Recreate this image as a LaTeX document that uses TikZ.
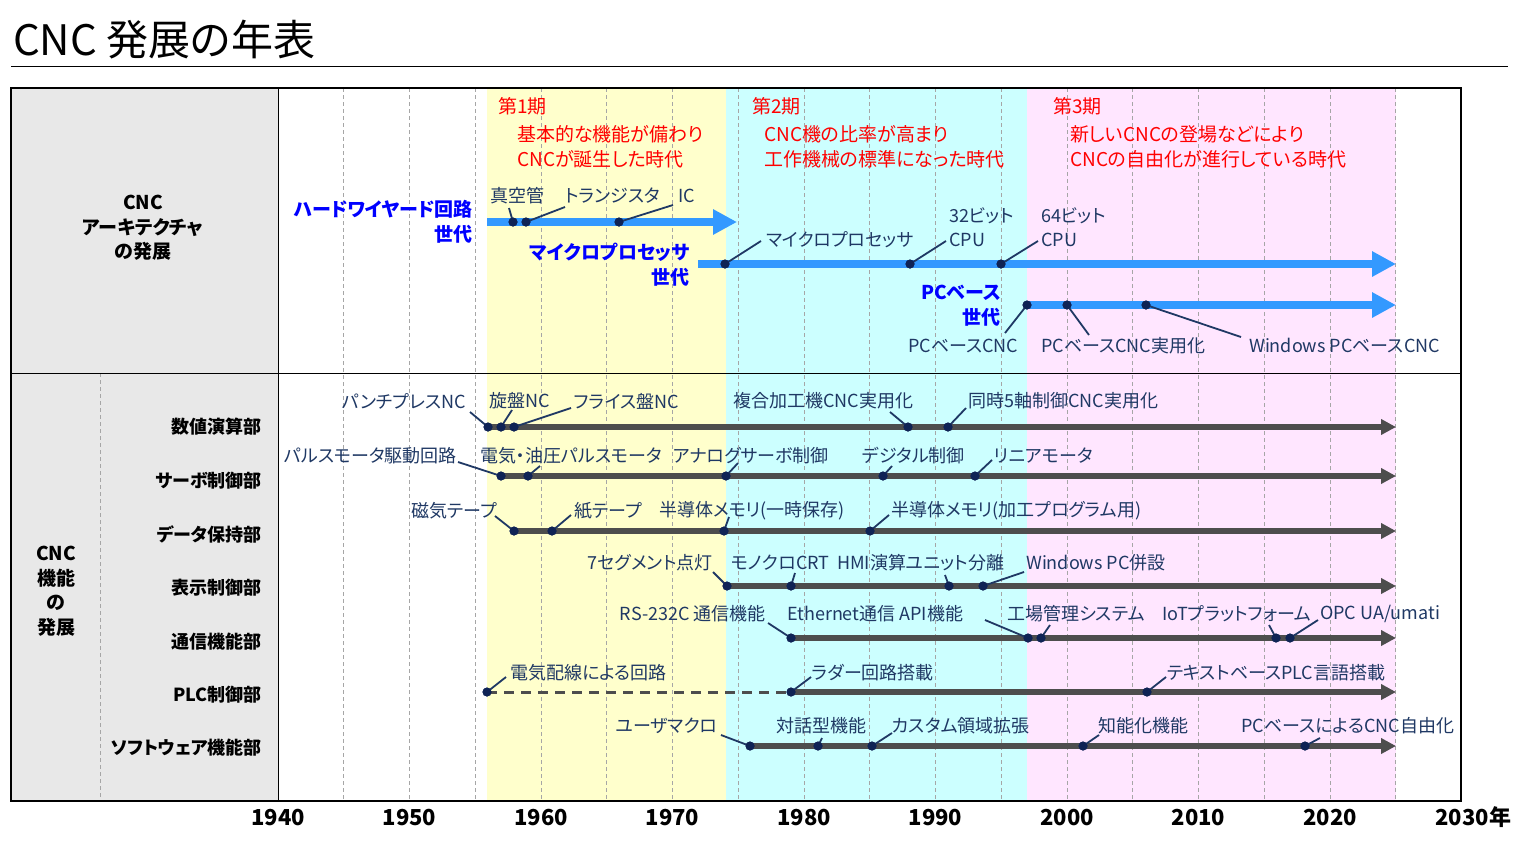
\documentclass[tikz,border=0pt]{standalone}
\usepackage{fontspec}
\setmainfont{Noto Sans CJK JP}[RawFeature=+palt]
\usetikzlibrary{arrows.meta}
\definecolor{navy}{HTML}{1F3864}
\definecolor{dotc}{HTML}{0F2355}
\definecolor{barblue}{HTML}{3399FF}
\definecolor{bargray}{HTML}{4D4D4D}
\definecolor{bandY}{HTML}{FFFFCC}
\definecolor{bandC}{HTML}{CCFFFF}
\definecolor{bandP}{HTML}{FFE6FF}
\definecolor{panel}{HTML}{E8E8E8}
\definecolor{gridc}{HTML}{A6A6A6}
\begin{document}
\begin{tikzpicture}[x=1pt,y=-1pt,
  lab/.style={font=\fontsize{18}{20}\selectfont, text=navy, inner sep=0pt},
  labR/.style={lab, anchor=east},
  labL/.style={lab, anchor=west},
  period/.style={font=\fontsize{19}{21}\selectfont, text=red, inner sep=0pt, anchor=west},
  gen/.style={font=\fontsize{19}{25}\bfseries\selectfont, text=blue, inner sep=0pt, anchor=east, align=right},
  head/.style={font=\fontsize{19}{24.5}\bfseries\selectfont, inner sep=0pt, align=center},
  rowlab/.style={font=\fontsize{18}{20}\bfseries\selectfont, inner sep=0pt, anchor=east},
  dot/.style={circle, fill=dotc, inner sep=0pt, minimum size=9pt},
  leader/.style={draw=navy, line width=1.8pt},
  bluebar/.style={draw=barblue, line width=8pt, -{Triangle[length=24pt,width=24pt]}},
  graybar/.style={draw=bargray, line width=6pt, -{Triangle[length=15pt,width=15pt]}},
  graydash/.style={draw=bargray, line width=3pt, dash pattern=on 10pt off 7pt},
  yearlab/.style={font=\fontsize{22}{24}\bfseries\selectfont, inner sep=0pt},
  gridline/.style={draw=gridc, dash pattern=on 4pt off 3pt, line width=0.8pt}
]
\useasboundingbox (0,0) rectangle (1525,855);
% title
\node[font=\fontsize{42}{46}\selectfont, anchor=west, inner sep=0pt] (title) at (13,40) {CNC 発展の年表};
\draw[line width=1pt] (11,66) -- (1508,66);
% backgrounds
\fill[panel] (11,88) rectangle (278,801);
\fill[bandY] (487,88) rectangle (726,801);
\fill[bandC] (726,88) rectangle (1027,801);
\fill[bandP] (1027,88) rectangle (1396,801);
\foreach \yr in {1945,1950,...,2025}
  \draw[gridline] ({278+(\yr-1940)*13.15},88) -- ({278+(\yr-1940)*13.15},801);
\draw[gridline] (100,373) -- (100,801);
\draw[line width=1pt] (278,88) -- (278,801);
\draw[line width=1pt] (11,373) -- (1461,373);
\draw[line width=2pt] (11,88) rectangle (1461,801);
% years
\foreach \yr in {1940,1950,...,2020}
  \node[yearlab] (y\yr) at ({278+(\yr-1940)*13.15},817) {\yr};
\node[yearlab] (y2030) at (1462,817) {2030};
\node[yearlab, anchor=west] (nen) at (y2030.east) {年};
% headers
\node[head] (archhead) at (143,228) {CNC\\アーキテクチャ\\の発展};
\node[head] (funchead) at (56,591) {CNC\\機能\\の\\発展};
\node[rowlab] (row1) at (262,427) {数値演算部};
\node[rowlab] (row2) at (262,481) {サーボ制御部};
\node[rowlab] (row3) at (262,534) {データ保持部};
\node[rowlab] (row4) at (262,588) {表示制御部};
\node[rowlab] (row5) at (262,642) {通信機能部};
\node[rowlab] (row6) at (262,695) {PLC制御部};
\node[rowlab] (row7) at (262,748) {ソフトウェア機能部};
% periods
\node[period] (p1) at (498,106) {第1期};
\node[period] (p1a) at (517,134) {基本的な機能が備わり};
\node[period] (p1b) at (517,159) {CNCが誕生した時代};
\node[period] (p2) at (752,106) {第2期};
\node[period] (p2a) at (764,134) {CNC機の比率が高まり};
\node[period] (p2b) at (764,159) {工作機械の標準になった時代};
\node[period] (p3) at (1053,106) {第3期};
\node[period] (p3a) at (1070,134) {新しいCNCの登場などにより};
\node[period] (p3b) at (1070,159) {CNCの自由化が進行している時代};
% generations
\node[gen] (g1) at (473,222) {ハードワイヤード回路\\世代};
\node[gen] (g2) at (690,265) {マイクロプロセッサ\\世代};
\node[gen] (g3) at (1001,306) {PCベース\\世代};
% blue arrows
\coordinate (a1s) at (487,222); \coordinate (a1e) at (737,222);
\coordinate (a2s) at (698,264); \coordinate (a2e) at (1396,264);
\coordinate (a3s) at (1027,305); \coordinate (a3e) at (1396,305);
\draw[bluebar] (a1s) -- (a1e);
\draw[bluebar] (a2s) -- (a2e);
\draw[bluebar] (a3s) -- (a3e);
% gray rows
\coordinate (r1s) at (488,427); \coordinate (r1e) at (1396,427);
\coordinate (r2s) at (501,476); \coordinate (r2e) at (1396,476);
\coordinate (r3s) at (514,531); \coordinate (r3e) at (1396,531);
\coordinate (r4s) at (727,586); \coordinate (r4e) at (1396,586);
\coordinate (r5s) at (791,638); \coordinate (r5e) at (1396,638);
\coordinate (r6s) at (791,692); \coordinate (r6e) at (1396,692);
\coordinate (r7s) at (750,746); \coordinate (r7e) at (1396,746);
\foreach \r in {1,...,7} \draw[graybar] (r\r s) -- (r\r e);
\coordinate (r6d) at (487,692);
\draw[graydash] (r6d) -- (r6s);
% upper labels
\node[labL] (t1) at (490,196) {真空管};
\node[labL] (t2) at (565,196) {トランジスタ};
\node[labL] (t3) at (678,196) {IC};
\node[labL] (t4) at (766,240) {マイクロプロセッサ};
\node[labL] (t5) at (949,216) {32ビット};
\node[labL] (t5b) at (949,240) {CPU};
\node[labL] (t6) at (1041,216) {64ビット};
\node[labL] (t6b) at (1041,240) {CPU};
\node[labL] (t7) at (908,346) {PCベースCNC};
\node[labL] (t8) at (1041,346) {PCベースCNC実用化};
\node[labL] (t9) at (1249,346) {Windows PCベースCNC};
% lower labels
\node[labR] (n11) at (466,401) {パンチプレスNC};
\node[labL] (n12) at (489,401) {旋盤NC};
\node[labL] (n13) at (574,401) {フライス盤NC};
\node[labL] (n14) at (733,401) {複合加工機CNC実用化};
\node[labL] (n15) at (968,401) {同時5軸制御CNC実用化};
\node[labR] (n21) at (457,456) {パルスモータ駆動回路};
\node[labL] (n22) at (480,456) {電気・油圧パルスモータ};
\node[labL] (n23) at (673,456) {アナログサーボ制御};
\node[labL] (n24) at (862,456) {デジタル制御};
\node[labL] (n25) at (994,456) {リニアモータ};
\node[labR] (n31) at (497,511) {磁気テープ};
\node[labL] (n32) at (574,511) {紙テープ};
\node[labL] (n33) at (659,511) {半導体メモリ(一時保存)};
\node[labL] (n34) at (891,511) {半導体メモリ(加工プログラム用)};
\node[labR] (n41) at (713,563) {7セグメント点灯};
\node[labL] (n42) at (731,563) {モノクロCRT};
\node[labL] (n43) at (837,563) {HMI演算ユニット分離};
\node[labL] (n44) at (1026,563) {Windows PC併設};
\node[labR] (n51) at (766,614) {RS-232C 通信機能};
\node[labL] (n52) at (787,614) {Ethernet通信 API機能};
\node[labL] (n53) at (1007,614) {工場管理システム};
\node[labL] (n54) at (1162,614) {IoTプラットフォーム};
\node[labL] (n55) at (1320,614) {OPC UA/umati};
\node[labL] (n61) at (510,673) {電気配線による回路};
\node[labL] (n62) at (812,673) {ラダー回路搭載};
\node[labL] (n63) at (1167,673) {テキストベースPLC言語搭載};
\node[labR] (n71) at (718,726) {ユーザマクロ};
\node[labL] (n72) at (776,726) {対話型機能};
\node[labL] (n73) at (892,726) {カスタム領域拡張};
\node[labL] (n74) at (1098,726) {知能化機能};
\node[labL] (n75) at (1241,726) {PCベースによるCNC自由化};
% dots and leaders: name/x/y/leaderx/leadery
\foreach \n/\x/\y/\lx/\ly in {
  u1/513/222/509/208, u2/526/222/565/207, u3/619/222/673/205,
  u4/725/264/761/241, u5/910/264/946/241, u6/1001/264/1038/241,
  u7/1027/305/1005/333, u8/1067/305/1089/335, u9/1146/305/1241/337,
  d11/488/427/470/412, d12/501/427/512/410, d13/514/427/571/408, d14/908/427/890/412, d15/948/427/966/408,
  d21/501/476/458/462, d22/528/476/540/466, d23/726/476/738/463, d24/883/476/892/466, d25/975/476/992/460,
  d31/514/531/495/516, d32/552/531/571/515, d33/724/531/729/517, d34/870/531/889/515,
  d41/727/586/713/572, d42/791/586/795/573, d43/949/586/945/575, d44/983/586/1024/572,
  d51/791/638/768/623, d52/1028/638/985/620, d53/1041/638/1050/625, d54/1276/638/1269/625, d55/1290/638/1318/620,
  d61/487/692/506/677, d62/791/692/811/677, d63/1147/692/1166/677,
  d71/750/746/721/735, d72/818/746/822/738, d73/872/746/892/733, d74/1083/746/1099/735, d75/1305/746/1320/738}
{
  \node[dot] (\n) at (\x,\y) {};
  \coordinate (L\n) at (\lx,\ly);
  \draw[leader] (\n.center) -- (L\n);
  \node[dot] at (\x,\y) {};
}
\end{tikzpicture}
\end{document}
